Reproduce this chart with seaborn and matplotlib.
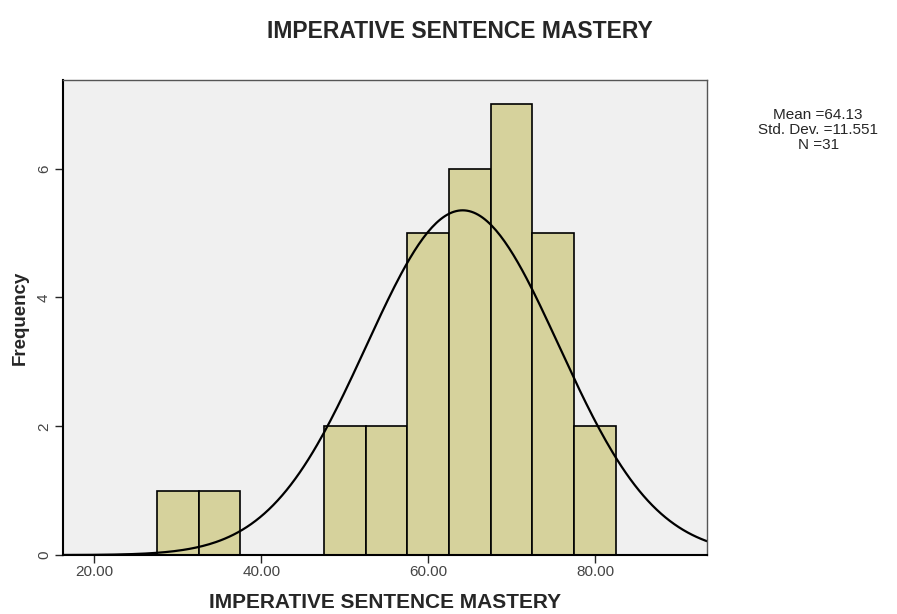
import numpy as np
import pandas as pd
import seaborn as sns
import matplotlib.pyplot as plt

# histogram bins (centres) and their counts
bin_centers = [30, 35, 40, 45, 50, 55, 60, 65, 70, 75, 80]
counts = [1, 1, 0, 0, 2, 2, 5, 6, 7, 5, 2]
bin_width = 5

# summary stats shown on the chart
mean_val = 64.13
std_val = 11.551
n_val = 31

x_ticks = [20, 40, 60, 80]
x_tick_labels = ['20.00', '40.00', '60.00', '80.00']
y_ticks = [0, 2, 4, 6]

sns.set_style('white')
plt.rcParams['font.family'] = ['Liberation Sans', 'DejaVu Sans']

df = pd.DataFrame({'score': bin_centers, 'count': counts})

fig = plt.figure(figsize=(8.97, 6.14), dpi=100)
ax = fig.add_axes([0.070, 0.096, 0.718, 0.774])
ax.set_facecolor('#f0f0f0')

sns.histplot(data=df, x='score', weights='count', binwidth=bin_width,
             binrange=(bin_centers[0] - bin_width / 2, bin_centers[-1] + bin_width / 2), ax=ax,
             color='#d6d29c', edgecolor='black', linewidth=1.2, alpha=1)

# normal curve
xs = np.linspace(15, 94, 300)
ys = n_val * bin_width * np.exp(-0.5 * ((xs - mean_val) / std_val) ** 2) / (std_val * np.sqrt(2 * np.pi))
sns.lineplot(x=xs, y=ys, ax=ax, color='black', linewidth=1.6)

ax.set_xlim(16.2, 93.4)
ax.set_ylim(0, 7.38)
ax.set_xticks(x_ticks)
ax.set_xticklabels(x_tick_labels)
ax.set_yticks(y_ticks)
ax.tick_params(axis='both', direction='out', length=5.5, width=1, labelsize=11,
               labelcolor='#444444', bottom=True, left=True)
ax.tick_params(axis='x', pad=2)
ax.tick_params(axis='y', pad=3, labelrotation=90)
for lab in ax.get_yticklabels():
    lab.set_va('center')
for s in ax.spines.values():
    s.set_color('#555555')
    s.set_linewidth(1)
ax.spines['left'].set_color('black')
ax.spines['bottom'].set_color('black')
ax.spines['left'].set_linewidth(1.5)
ax.spines['bottom'].set_linewidth(1.5)

ax.set_xlabel('IMPERATIVE SENTENCE MASTERY', fontsize=15, fontweight='bold', labelpad=10)
ax.set_ylabel('Frequency', fontsize=13.5, fontweight='bold', labelpad=6)

fig.text(0.513, 0.948, 'IMPERATIVE SENTENCE MASTERY', ha='center', va='center',
         fontsize=16.5, fontweight='bold')
fig.text(0.912, 0.788, f'Mean ={mean_val}\nStd. Dev. ={std_val}\nN ={n_val}',
         ha='center', va='center', fontsize=11, linespacing=1.1)

fig.savefig('out.png', dpi=100)
